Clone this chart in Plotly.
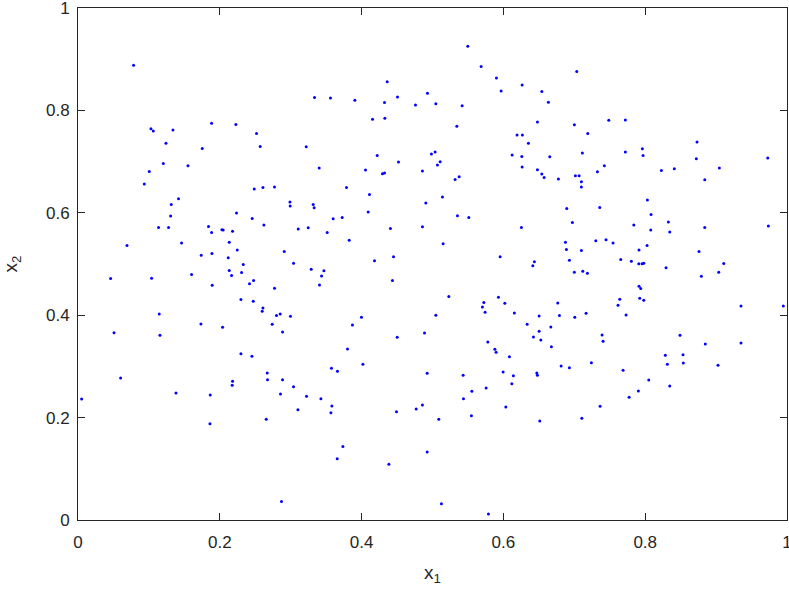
import plotly.graph_objects as go

x1 = [
0.0784,0.1029,0.1062,0.1339,0.1884,0.2227,0.1241,0.1752,0.1203,0.1551,0.1005,
0.4361,0.3336,0.3561,0.3905,0.4506,0.4323,0.4929,0.4760,0.4154,0.4328,0.2518,0.2570,0.3219,0.4220,0.4520,0.3402,0.4055,0.4294,0.4323,0.4858,
0.5498,0.5686,0.7035,0.5902,0.6264,0.5968,0.6542,0.6635,0.5047,0.5418,0.7486,0.6480,0.7001,0.5343,0.7190,0.6193,0.6268,0.6353,0.4985,0.5037,0.7114,0.6123,0.6260,0.6654,0.5108,0.5070,0.7424,0.6264,0.7326,0.6480,0.6542,
0.7720,0.8731,0.7960,0.7720,0.7970,0.8721,0.9728,0.9046,0.8228,0.8411,
0.0935,0.1418,0.1315,0.1306,0.2236,0.1136,0.1277,0.1841,0.1884,0.2030,0.2048,0.2180,0.0691,0.1461,0.2133,0.1738,0.1889,0.2246,0.2119,0.2331,0.2133,0.2307,0.2166,0.0460,0.1038,0.1602,0.2419,0.1893,0.2298,0.1146,0.1734,0.2039,0.0508,0.1156,
0.2486,0.2608,0.2772,0.3787,0.4111,0.4906,0.2989,0.2993,0.3317,0.3331,0.2457,0.2622,0.3599,0.3726,0.4093,0.3106,0.3247,0.3515,0.4407,0.4858,0.3825,0.2909,0.3040,0.4182,0.4450,0.3289,0.3468,0.3435,0.3406,0.2476,0.2772,0.4435,0.2472,0.2608,0.2598,0.2800,0.2852,0.2997,0.2739,0.2885,0.3998,0.3871,0.4502,0.4887,0.3801,
0.5319,0.5376,0.6574,0.6776,0.7016,0.7068,0.7100,0.7100,0.5140,0.6894,0.7359,0.5352,0.5512,0.6973,0.6254,0.5150,0.6875,0.7303,0.7448,0.6889,0.7100,0.5954,0.6931,0.6437,0.6415,0.7001,0.7120,0.7185,0.5230,0.5930,0.5724,0.6020,0.5704,0.5742,0.6767,0.5047,0.6155,0.6504,0.6790,0.7007,0.7166,0.6335,0.6669,0.6504,0.7392,0.6424,0.6528,0.7406,0.5780,0.6677,0.5879,
0.8840,0.8031,0.8083,0.7839,0.8327,0.8078,0.8346,0.8840,0.9737,0.7547,0.8026,0.7913,0.8759,0.7655,0.7805,0.7909,0.7956,0.7980,0.8294,0.9108,0.9037,0.8792,0.7913,0.7937,0.7923,0.7980,0.7641,0.7617,0.9351,0.9948,0.7730,0.8491,0.8848,0.9351,
0.2298,0.0601,0.1382,0.1865,0.2180,0.2175,0.0051,0.1861,
0.2453,0.3575,0.3660,0.4018,0.2669,0.2673,0.2885,0.4925,0.3040,0.2856,0.3223,0.3426,0.3581,0.3567,0.3102,0.2655,0.4492,0.4770,0.4858,0.3736,0.3656,0.4385,0.4925,0.2870,
0.5897,0.6085,0.6814,0.6931,0.7241,0.5432,0.5996,0.6141,0.6471,0.6480,0.6119,0.5756,0.5555,0.5437,0.6034,0.7364,0.5089,0.5549,0.6513,0.7106,0.5126,0.5789,
0.8284,0.8534,0.8312,0.8538,0.9027,0.7688,0.8050,0.8346,0.7904,0.7773,
]

x2 = [
0.888,0.7643,0.7598,0.7617,0.7747,0.7727,0.7356,0.7258,0.6965,0.6920,0.6808,
0.8562,0.8250,0.8243,0.8197,0.8263,0.8152,0.8334,0.8107,0.7825,0.7845,0.7551,0.7297,0.7291,0.7121,0.6992,0.6874,0.6835,0.6763,0.6777,0.6816,
0.9253,0.8856,0.8758,0.8635,0.8498,0.8381,0.8367,0.8158,0.8132,0.8093,0.7806,0.7774,0.7722,0.7688,0.7551,0.7520,0.7520,0.7356,0.7148,0.7187,0.7168,0.7129,0.7102,0.7096,0.6998,0.6933,0.6920,0.6894,0.6802,0.6841,0.6757,
0.7813,0.7383,0.7252,0.7187,0.7121,0.7057,0.7070,0.6874,0.6828,0.6861,
0.6562,0.6274,0.6163,0.5936,0.5994,0.5713,0.5713,0.5733,0.5615,0.5668,0.5662,0.5642,0.5361,0.5408,0.5427,0.5173,0.5205,0.5271,0.5120,0.4989,0.4872,0.4833,0.4774,0.4715,0.4723,0.4794,0.4612,0.4586,0.4305,0.4025,0.3829,0.3765,0.3659,0.3608,
0.6464,0.6495,0.6503,0.6495,0.6358,0.6190,0.6209,0.6131,0.6163,0.6098,0.5889,0.5760,0.5883,0.5909,0.6014,0.5682,0.5707,0.5615,0.5693,0.5727,0.5466,0.5244,0.5017,0.5062,0.5140,0.4899,0.4866,0.4768,0.4592,0.4677,0.4528,0.4677,0.4273,0.4142,0.4078,0.3992,0.4025,0.3980,0.3823,0.3673,0.3960,0.3810,0.3569,0.3653,0.3341,
0.6652,0.6704,0.6691,0.6659,0.6724,0.6724,0.6607,0.6503,0.6307,0.6085,0.6104,0.5942,0.5909,0.5811,0.5713,0.5394,0.5427,0.5453,0.5472,0.5283,0.5263,0.5140,0.5075,0.5042,0.4964,0.4840,0.4860,0.4821,0.4363,0.4352,0.4246,0.4234,0.4162,0.4058,0.4240,0.4000,0.4045,0.3986,0.3992,0.3960,0.4039,0.3823,0.3771,0.3687,0.3614,0.3575,0.3517,0.3491,0.3477,0.3386,0.3335,
0.6646,0.6249,0.5967,0.5760,0.5818,0.5662,0.5623,0.5713,0.5740,0.5408,0.5361,0.5271,0.5244,0.5087,0.5056,0.5003,0.5003,0.5017,0.4925,0.5009,0.4840,0.4762,0.4566,0.4520,0.4332,0.4293,0.4312,0.4195,0.4182,0.4182,0.4005,0.3608,0.3438,0.3458,
0.3249,0.2773,0.2480,0.2441,0.2709,0.2631,0.2363,0.1880,
0.3198,0.2963,0.2904,0.3041,0.2871,0.2740,0.2740,0.2865,0.2603,0.2460,0.2415,0.2368,0.2226,0.2095,0.2153,0.1966,0.2114,0.2167,0.2245,0.1437,0.1195,0.1091,0.1326,0.0362,
0.3276,0.3190,0.3008,0.2975,0.3073,0.2826,0.2891,0.2818,0.2871,0.2826,0.2662,0.2578,0.2513,0.2368,0.2206,0.2220,0.1966,0.2036,0.1932,0.1985,0.0315,0.0119,
0.3217,0.3229,0.3041,0.3067,0.3022,0.2924,0.2734,0.2617,0.2519,0.2396,
]

tick_vals = [0, 0.2, 0.4, 0.6, 0.8, 1]
tick_text = ["0", "0.2", "0.4", "0.6", "0.8", "1"]

FONT = "Liberation Sans, Arial, sans-serif"
INK = "#262626"

fig = go.Figure()
fig.add_trace(go.Scatter(
    x=x1, y=x2, mode="markers",
    marker=dict(color="#0000ff", size=3, line=dict(width=0)),
    showlegend=False, hoverinfo="x+y",
))

def axis(title, label_standoff, title_standoff):
    return dict(
        range=[0, 1], autorange=False, automargin=False,
        tickmode="array", tickvals=tick_vals, ticktext=tick_text,
        showgrid=False, zeroline=False,
        showline=True, linecolor=INK, linewidth=1, mirror="ticks",
        ticks="inside", ticklen=7, tickwidth=1, tickcolor=INK,
        ticklabelstandoff=label_standoff, ticklabeloverflow="allow",
        tickfont=dict(family=FONT, size=17, color=INK),
        title=dict(text=title, standoff=title_standoff,
                   font=dict(family=FONT, size=19, color=INK)),
    )

fig.update_layout(
    width=789, height=597,
    margin=dict(l=78, r=2, t=8, b=77, autoexpand=False),
    paper_bgcolor="white", plot_bgcolor="white",
    xaxis=axis("x<sub>1</sub>", 7, 14),
    yaxis=axis("x<sub>2</sub>", 4, 25),
)

fig.write_html("out.html", config={"displayModeBar": False},
               post_script="document.body.style.margin='0px';")
